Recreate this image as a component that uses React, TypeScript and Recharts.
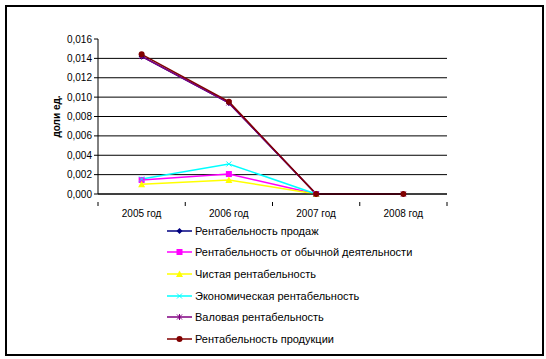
import React from "react";
import {
  LineChart,
  Line,
  CartesianGrid,
  XAxis,
  YAxis,
} from "recharts";

const years = ["2005 год", "2006 год", "2007 год", "2008 год"];

const salesProfit = [0.0142, 0.0094, 0, 0];
const ordinaryProfit = [0.00145, 0.00206, 0, null];
const netProfit = [0.001, 0.00145, 0, null];
const economicProfit = [0.00155, 0.0031, 0, null];
const grossProfit = [0.0142, 0.0094, 0, 0];
const productProfit = [0.01442, 0.00953, 0, 0];

const yTicks = [0, 0.002, 0.004, 0.006, 0.008, 0.01, 0.012, 0.014, 0.016];

const series = [
  { key: "sales", name: "Рентабельность продаж", color: "#000080", shape: "diamond", values: salesProfit },
  { key: "ordinary", name: "Рентабельность от обычной деятельности", color: "#FF00FF", shape: "square", values: ordinaryProfit },
  { key: "net", name: "Чистая рентабельность", color: "#FFFF00", shape: "triangle", values: netProfit },
  { key: "economic", name: "Экономическая рентабельность", color: "#00FFFF", shape: "cross", values: economicProfit },
  { key: "gross", name: "Валовая рентабельность", color: "#800080", shape: "star", values: grossProfit },
  { key: "product", name: "Рентабельность продукции", color: "#800000", shape: "circle", values: productProfit },
];

const data = years.map((y, i) => {
  const row: Record<string, any> = { year: y };
  series.forEach((s) => {
    row[s.key] = s.values[i];
  });
  return row;
});

const W = 546;
const H = 359;
const X_H = 30;
const Y_W = 98;
const M = { top: 39, right: 99, bottom: 165 - X_H, left: 0 };
const FONT = "'Liberation Sans', Arial, sans-serif";

const band = (W - Y_W - M.right) / years.length;

function Marker({ shape, cx, cy, color }: { shape: string; cx: number; cy: number; color: string }) {
  switch (shape) {
    case "diamond":
      return <path d={`M${cx},${cy - 3}L${cx + 3},${cy}L${cx},${cy + 3}L${cx - 3},${cy}Z`} fill={color} />;
    case "square":
      return <rect x={cx - 3} y={cy - 3} width={6} height={6} fill={color} />;
    case "triangle":
      return <path d={`M${cx},${cy - 3.5}L${cx + 3.5},${cy + 3}L${cx - 3.5},${cy + 3}Z`} fill={color} />;
    case "cross":
      return (
        <path
          d={`M${cx - 2.5},${cy - 2.5}L${cx + 2.5},${cy + 2.5}M${cx + 2.5},${cy - 2.5}L${cx - 2.5},${cy + 2.5}`}
          stroke={color}
          strokeWidth={1}
        />
      );
    case "star":
      return (
        <path
          d={`M${cx - 2.5},${cy - 2.5}L${cx + 2.5},${cy + 2.5}M${cx + 2.5},${cy - 2.5}L${cx - 2.5},${cy + 2.5}M${cx},${cy - 3}L${cx},${cy + 3}`}
          stroke={color}
          strokeWidth={1}
        />
      );
    default:
      return <circle cx={cx} cy={cy} r={3} fill={color} />;
  }
}

function makeDot(shape: string, color: string) {
  return (props: any) => {
    const { cx, cy, value, index } = props;
    if (value === null || value === undefined || cx == null || cy == null) {
      return <g key={`e-${index}`} />;
    }
    return (
      <g key={`d-${index}`}>
        <Marker shape={shape} cx={cx} cy={cy} color={color} />
      </g>
    );
  };
}

function XTick(props: any) {
  const { x, y, payload, index } = props;
  return (
    <g>
      <line x1={x - band / 2} y1={y} x2={x - band / 2} y2={y + 4} stroke="#000" />
      {index === years.length - 1 && (
        <line x1={x + band / 2} y1={y} x2={x + band / 2} y2={y + 4} stroke="#000" />
      )}
      <text x={x} y={y + 15} textAnchor="middle" fontSize={10} fontFamily={FONT} fill="#000">
        {payload.value}
      </text>
    </g>
  );
}

function LegendBlock() {
  return (
    <div style={{ position: "absolute", left: 167, top: 220, fontFamily: FONT, fontSize: 11, color: "#000" }}>
      {series.map((s) => (
        <div key={s.key} style={{ display: "flex", alignItems: "center", height: 21.6 }}>
          <svg width={26} height={10} style={{ marginRight: 2 }}>
            <line x1={0} y1={5} x2={25} y2={5} stroke={s.color} strokeWidth={1.5} />
            <Marker shape={s.shape} cx={12.5} cy={5} color={s.color} />
          </svg>
          <span style={{ whiteSpace: "nowrap" }}>{s.name}</span>
        </div>
      ))}
    </div>
  );
}

export default function App() {
  return (
    <div style={{ position: "absolute", left: 0, top: 0, width: W, height: H, background: "#fff" }}>
      <style>{`body{margin:0}`}</style>
      <div
        style={{
          position: "absolute",
          left: 5,
          top: 5,
          width: 535,
          height: 347,
          border: "2px solid #000",
        }}
      />
      <div style={{ position: "absolute", left: 0, top: 0 }}>
        <LineChart width={W} height={H} data={data} margin={M}>
          <CartesianGrid
            vertical={false}
            stroke="#000"
            strokeWidth={1}
            horizontalCoordinatesGenerator={(p: any) => {
              const top = p.offset.top;
              const h = p.offset.height;
              return yTicks.slice(0, -1).map((t) => top + h - (t / 0.016) * h);
            }}
          />
          <XAxis
            dataKey="year"
            height={X_H}
            padding={{ left: band / 2, right: band / 2 }}
            axisLine={{ stroke: "#000" }}
            tickLine={false}
            tick={<XTick />}
            interval={0}
          />
          <YAxis
            width={Y_W}
            domain={[0, 0.016]}
            ticks={yTicks}
            interval={0}
            axisLine={{ stroke: "#000" }}
            tickLine={{ stroke: "#000" }}
            tickSize={4}
            tickMargin={2}
            tick={{ fontSize: 10, fontFamily: FONT, fill: "#000" }}
            tickFormatter={(v: number) => v.toFixed(3).replace(".", ",")}
            label={{
              value: "доли ед.",
              angle: -90,
              position: "insideLeft",
              offset: 56,
              style: { fontSize: 10, fontFamily: FONT, fontWeight: "bold", fill: "#000", textAnchor: "middle" },
            }}
          />
          {series.map((s) => (
            <Line
              key={s.key}
              type="linear"
              dataKey={s.key}
              name={s.name}
              stroke={s.color}
              strokeWidth={1.5}
              dot={makeDot(s.shape, s.color)}
              activeDot={false}
              isAnimationActive={false}
            />
          ))}
        </LineChart>
      </div>
      <LegendBlock />
    </div>
  );
}
